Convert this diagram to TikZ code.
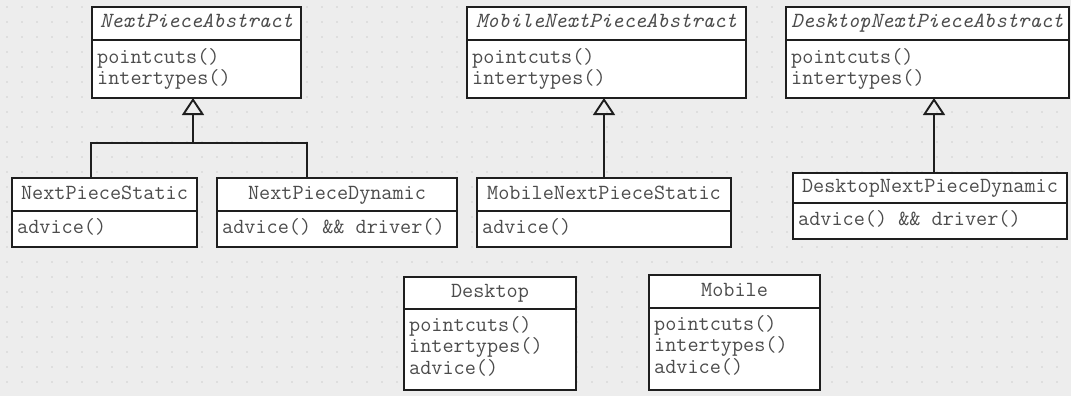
\documentclass[tikz,border=0pt]{standalone}
\usepackage{fontspec}
\usetikzlibrary{arrows.meta,positioning}
\definecolor{Canvas}{HTML}{EDEDED}
\definecolor{Dot}{HTML}{CFCFCF}
\definecolor{Ink}{HTML}{4C4C4C}
\definecolor{Edge}{HTML}{1E1E1E}
\newcommand{\umlfont}{\ttfamily\fontsize{21.6}{21.5}\selectfont}
\tikzset{
  classhead/.style={draw=Edge,fill=white,line width=1.9pt,outer sep=0pt,inner sep=0pt,anchor=north west,font=\umlfont,text=Ink,text height=13pt,text depth=4pt},
  classbody/.style={draw=Edge,fill=white,line width=1.9pt,outer sep=0pt,inner sep=0pt},
  ops/.style={anchor=north west,inner sep=0pt,align=left,font=\umlfont,text=Ink},
  inherit/.style={-{Triangle[open,length=17pt,width=22pt,line width=1.9pt]},draw=Edge,line width=1.9pt},
  plainline/.style={draw=Edge,line width=1.9pt}
}

\begin{document}
\begin{tikzpicture}[x=1pt,y=-1pt]
        \fill[Canvas] (0,0) rectangle (1071,396);
        \useasboundingbox (0,0) rectangle (1071,396);
        \foreach \gx in {7,22,...,1071}
          \foreach \gy in {7,22,...,396}
            \fill[Dot] (\gx,\gy) circle (0.8pt);
        % abstract aspects
        \node[classhead,minimum width=209pt,minimum height=33pt] (abs) at (92,7) {\itshape NextPieceAbstract};
        \node[classbody,minimum width=209pt,minimum height=58pt,below=0pt of abs] (absb) {};
        \node[ops] (absops) at ([xshift=5pt,yshift=-8pt]absb.north west) {pointcuts()\\intertypes()};
        \node[classhead,minimum width=279pt,minimum height=33pt] (mabs) at (467,7) {\itshape MobileNextPieceAbstract};
        \node[classbody,minimum width=279pt,minimum height=58pt,below=0pt of mabs] (mabsb) {};
        \node[ops] (mabsops) at ([xshift=5pt,yshift=-8pt]mabsb.north west) {pointcuts()\\intertypes()};
        \node[classhead,minimum width=283pt,minimum height=33pt] (dabs) at (786,7) {\itshape DesktopNextPieceAbstract};
        \node[classbody,minimum width=283pt,minimum height=58pt,below=0pt of dabs] (dabsb) {};
        \node[ops] (dabsops) at ([xshift=5pt,yshift=-8pt]dabsb.north west) {pointcuts()\\intertypes()};
        % concrete aspects
        \node[classhead,minimum width=185pt,minimum height=33pt] (nps) at (12,178) {NextPieceStatic};
        \node[classbody,minimum width=185pt,minimum height=36pt,below=0pt of nps] (npsb) {};
        \node[ops] (npsops) at ([xshift=5pt,yshift=-7pt]npsb.north west) {advice()};
        \node[classhead,minimum width=240pt,minimum height=33pt] (npd) at (217,178) {NextPieceDynamic};
        \node[classbody,minimum width=240pt,minimum height=36pt,below=0pt of npd] (npdb) {};
        \node[ops] (npdops) at ([xshift=5pt,yshift=-7pt]npdb.north west) {advice() \&\& driver()};
        \node[classhead,minimum width=254pt,minimum height=33pt] (mnps) at (477,178) {MobileNextPieceStatic};
        \node[classbody,minimum width=254pt,minimum height=36pt,below=0pt of mnps] (mnpsb) {};
        \node[ops] (mnpsops) at ([xshift=5pt,yshift=-7pt]mnpsb.north west) {advice()};
        \node[classhead,minimum width=274pt,minimum height=30pt] (dnpd) at (793,173) {DesktopNextPieceDynamic};
        \node[classbody,minimum width=274pt,minimum height=36pt,below=0pt of dnpd] (dnpdb) {};
        \node[ops] (dnpdops) at ([xshift=5pt,yshift=-7pt]dnpdb.north west) {advice() \&\& driver()};
        % platform aspects
        \node[classhead,minimum width=172pt,minimum height=32pt] (desk) at (404,277) {Desktop};
        \node[classbody,minimum width=172pt,minimum height=81pt,below=0pt of desk] (deskb) {};
        \node[ops] (deskops) at ([xshift=5pt,yshift=-7pt]deskb.north west) {pointcuts()\\intertypes()\\advice()};
        \node[classhead,minimum width=171pt,minimum height=33pt] (mob) at (649,275) {Mobile};
        \node[classbody,minimum width=171pt,minimum height=82pt,below=0pt of mob] (mobb) {};
        \node[ops] (mobops) at ([xshift=5pt,yshift=-7pt]mobb.north west) {pointcuts()\\intertypes()\\advice()};
        % generalisations
        \coordinate (fork) at (193,143);
        \draw[plainline] ([xshift=-13.5pt]nps.north) |- (fork);
        \draw[plainline] ([xshift=-30pt]npd.north) |- (fork);
        \draw[inherit] (fork) -- (fork |- absb.south);
        \draw[inherit] (mnps.north) -- (mnps.north |- mabsb.south);
        \draw[inherit] ([xshift=4pt]dnpd.north) -- ([xshift=4pt]dnpd.north |- dabsb.south);
      \end{tikzpicture}
\end{document}
